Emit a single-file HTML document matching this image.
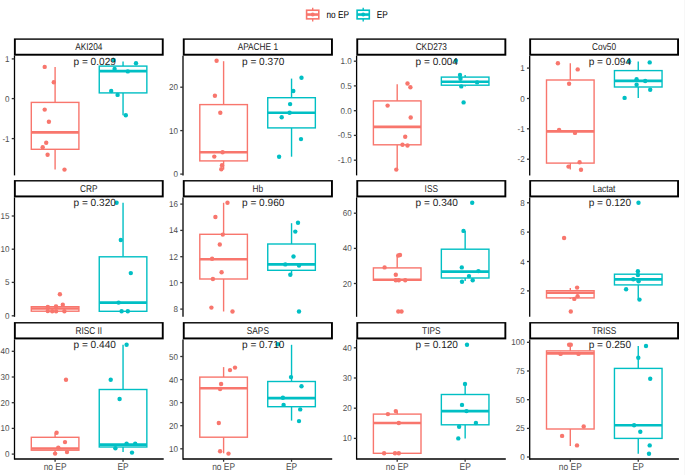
<!DOCTYPE html>
<html><head><meta charset="utf-8"><style>
html,body{margin:0;padding:0;background:#fff;}
svg{display:block;}
text{font-family:"Liberation Sans",sans-serif;text-rendering:geometricPrecision;}
.ax{font-size:8.5px;fill:#4D4D4D;}
.st{font-size:9.9px;fill:#262626;text-anchor:middle;}
.pv{font-size:10.3px;fill:#1c1c1c;}
.lg{font-size:10.0px;fill:#000;}
.xl{font-size:9.7px;fill:#4D4D4D;}
</style></head><body>
<svg width="685" height="475" viewBox="0 0 685 475">
<rect width="685" height="475" fill="#fff"/>
<line x1="684.5" y1="0" x2="684.5" y2="475" stroke="#f7f7f7" stroke-width="1"/>
<rect x="13.9" y="38.4" width="149.8" height="17.3" fill="#000"/>
<rect x="15.8" y="39.8" width="146" height="13.95" fill="#fff"/>
<text transform="translate(88.8,49.85) scale(0.84,1)" class="st">AKI204</text>
<line x1="14.5" y1="55.7" x2="14.5" y2="175.4" stroke="#000" stroke-width="1.3"/>
<line x1="11.75" y1="58.9" x2="14.5" y2="58.9" stroke="#333" stroke-width="1.3"/>
<text transform="translate(9.6,61.9) scale(0.95,1)" class="ax" text-anchor="end">1</text>
<line x1="11.75" y1="98.6" x2="14.5" y2="98.6" stroke="#333" stroke-width="1.3"/>
<text transform="translate(9.6,101.6) scale(0.95,1)" class="ax" text-anchor="end">0</text>
<line x1="11.75" y1="138.6" x2="14.5" y2="138.6" stroke="#333" stroke-width="1.3"/>
<text transform="translate(9.6,141.6) scale(0.95,1)" class="ax" text-anchor="end">-1</text>
<line x1="55.1" y1="66.9" x2="55.1" y2="102.4" stroke="#F8766D" stroke-width="1.4"/>
<line x1="55.1" y1="149.3" x2="55.1" y2="169.5" stroke="#F8766D" stroke-width="1.4"/>
<rect x="31.3" y="102.4" width="47.6" height="46.9" fill="#fff" stroke="#F8766D" stroke-width="1.4"/>
<line x1="31.3" y1="132.4" x2="78.9" y2="132.4" stroke="#F8766D" stroke-width="2.6"/>
<line x1="123.05" y1="61.4" x2="123.05" y2="66.1" stroke="#00BFC4" stroke-width="1.4"/>
<line x1="123.05" y1="92.9" x2="123.05" y2="115.3" stroke="#00BFC4" stroke-width="1.4"/>
<rect x="99.25" y="66.1" width="47.6" height="26.8" fill="#fff" stroke="#00BFC4" stroke-width="1.4"/>
<line x1="99.25" y1="71.1" x2="146.85" y2="71.1" stroke="#00BFC4" stroke-width="2.6"/>
<circle cx="44.7" cy="66.9" r="2.2" fill="#F8766D"/>
<circle cx="53.8" cy="82.3" r="2.2" fill="#F8766D"/>
<circle cx="44.7" cy="109.6" r="2.2" fill="#F8766D"/>
<circle cx="48.9" cy="121.7" r="2.2" fill="#F8766D"/>
<circle cx="46.2" cy="142.8" r="2.2" fill="#F8766D"/>
<circle cx="42.7" cy="147.3" r="2.2" fill="#F8766D"/>
<circle cx="47.6" cy="154.7" r="2.2" fill="#F8766D"/>
<circle cx="64.5" cy="169.6" r="2.2" fill="#F8766D"/>
<circle cx="113.6" cy="60" r="2.2" fill="#00BFC4"/>
<circle cx="136" cy="63.2" r="2.2" fill="#00BFC4"/>
<circle cx="114.6" cy="68.9" r="2.2" fill="#00BFC4"/>
<circle cx="127.8" cy="71.4" r="2.2" fill="#00BFC4"/>
<circle cx="111.2" cy="91" r="2.2" fill="#00BFC4"/>
<circle cx="117.6" cy="94.9" r="2.2" fill="#00BFC4"/>
<circle cx="125.8" cy="115.3" r="2.2" fill="#00BFC4"/>
<text transform="translate(73.5,64.5) scale(0.98,1)" class="pv">p = 0.029</text>
<rect x="182.8" y="38.4" width="150.1" height="17.3" fill="#000"/>
<rect x="184.7" y="39.8" width="146.3" height="13.95" fill="#fff"/>
<text transform="translate(257.85,49.85) scale(0.84,1)" class="st">APACHE 1</text>
<line x1="183" y1="55.7" x2="183" y2="175.4" stroke="#000" stroke-width="1.3"/>
<line x1="180.25" y1="87.2" x2="183" y2="87.2" stroke="#333" stroke-width="1.3"/>
<text transform="translate(178.1,90.2) scale(0.95,1)" class="ax" text-anchor="end">20</text>
<line x1="180.25" y1="130.6" x2="183" y2="130.6" stroke="#333" stroke-width="1.3"/>
<text transform="translate(178.1,133.6) scale(0.95,1)" class="ax" text-anchor="end">10</text>
<line x1="180.25" y1="174.1" x2="183" y2="174.1" stroke="#333" stroke-width="1.3"/>
<text transform="translate(178.1,177.1) scale(0.95,1)" class="ax" text-anchor="end">0</text>
<line x1="223.6" y1="61.2" x2="223.6" y2="104.6" stroke="#F8766D" stroke-width="1.4"/>
<line x1="223.6" y1="160.9" x2="223.6" y2="169.5" stroke="#F8766D" stroke-width="1.4"/>
<rect x="199.8" y="104.6" width="47.6" height="56.3" fill="#fff" stroke="#F8766D" stroke-width="1.4"/>
<line x1="199.8" y1="152.3" x2="247.4" y2="152.3" stroke="#F8766D" stroke-width="2.6"/>
<line x1="291.55" y1="78.6" x2="291.55" y2="97.7" stroke="#00BFC4" stroke-width="1.4"/>
<line x1="291.55" y1="127.9" x2="291.55" y2="156.7" stroke="#00BFC4" stroke-width="1.4"/>
<rect x="267.75" y="97.7" width="47.6" height="30.2" fill="#fff" stroke="#00BFC4" stroke-width="1.4"/>
<line x1="267.75" y1="112.8" x2="315.35" y2="112.8" stroke="#00BFC4" stroke-width="2.6"/>
<circle cx="216.6" cy="60.7" r="2.2" fill="#F8766D"/>
<circle cx="214.9" cy="95.7" r="2.2" fill="#F8766D"/>
<circle cx="220.3" cy="112.8" r="2.2" fill="#F8766D"/>
<circle cx="222.6" cy="152.3" r="2.2" fill="#F8766D"/>
<circle cx="214.3" cy="156.6" r="2.2" fill="#F8766D"/>
<circle cx="222" cy="165.3" r="2.2" fill="#F8766D"/>
<circle cx="221.3" cy="169.3" r="2.2" fill="#F8766D"/>
<circle cx="301.5" cy="77.8" r="2.2" fill="#00BFC4"/>
<circle cx="293.3" cy="91" r="2.2" fill="#00BFC4"/>
<circle cx="290.1" cy="104.1" r="2.2" fill="#00BFC4"/>
<circle cx="289.6" cy="112.8" r="2.2" fill="#00BFC4"/>
<circle cx="281.7" cy="117.2" r="2.2" fill="#00BFC4"/>
<circle cx="301" cy="139.1" r="2.2" fill="#00BFC4"/>
<circle cx="279.1" cy="156.7" r="2.2" fill="#00BFC4"/>
<text transform="translate(242,64.5) scale(0.98,1)" class="pv">p = 0.370</text>
<rect x="356.3" y="38.4" width="150" height="17.3" fill="#000"/>
<rect x="358.2" y="39.8" width="146.2" height="13.95" fill="#fff"/>
<text transform="translate(431.3,49.85) scale(0.84,1)" class="st">CKD273</text>
<line x1="356.6" y1="55.7" x2="356.6" y2="175.4" stroke="#000" stroke-width="1.3"/>
<line x1="353.85" y1="61.2" x2="356.6" y2="61.2" stroke="#333" stroke-width="1.3"/>
<text transform="translate(351.7,64.2) scale(0.95,1)" class="ax" text-anchor="end">1.0</text>
<line x1="353.85" y1="85.9" x2="356.6" y2="85.9" stroke="#333" stroke-width="1.3"/>
<text transform="translate(351.7,88.9) scale(0.95,1)" class="ax" text-anchor="end">0.5</text>
<line x1="353.85" y1="110.7" x2="356.6" y2="110.7" stroke="#333" stroke-width="1.3"/>
<text transform="translate(351.7,113.7) scale(0.95,1)" class="ax" text-anchor="end">0.0</text>
<line x1="353.85" y1="135.4" x2="356.6" y2="135.4" stroke="#333" stroke-width="1.3"/>
<text transform="translate(351.7,138.4) scale(0.95,1)" class="ax" text-anchor="end">-0.5</text>
<line x1="353.85" y1="160.2" x2="356.6" y2="160.2" stroke="#333" stroke-width="1.3"/>
<text transform="translate(351.7,163.2) scale(0.95,1)" class="ax" text-anchor="end">-1.0</text>
<line x1="397.2" y1="84.3" x2="397.2" y2="100.9" stroke="#F8766D" stroke-width="1.4"/>
<line x1="397.2" y1="144.8" x2="397.2" y2="169.6" stroke="#F8766D" stroke-width="1.4"/>
<rect x="373.4" y="100.9" width="47.6" height="43.9" fill="#fff" stroke="#F8766D" stroke-width="1.4"/>
<line x1="373.4" y1="126.9" x2="421" y2="126.9" stroke="#F8766D" stroke-width="2.6"/>
<line x1="465.15" y1="75" x2="465.15" y2="77.1" stroke="#00BFC4" stroke-width="1.4"/>
<line x1="465.15" y1="85.2" x2="465.15" y2="86.6" stroke="#00BFC4" stroke-width="1.4"/>
<rect x="441.35" y="77.1" width="47.6" height="8.1" fill="#fff" stroke="#00BFC4" stroke-width="1.4"/>
<line x1="441.35" y1="81.7" x2="488.95" y2="81.7" stroke="#00BFC4" stroke-width="2.6"/>
<circle cx="407.5" cy="83.5" r="2.2" fill="#F8766D"/>
<circle cx="410.4" cy="87.2" r="2.2" fill="#F8766D"/>
<circle cx="387.6" cy="105.6" r="2.2" fill="#F8766D"/>
<circle cx="410.7" cy="117.5" r="2.2" fill="#F8766D"/>
<circle cx="405.2" cy="136.8" r="2.2" fill="#F8766D"/>
<circle cx="402.5" cy="144.8" r="2.2" fill="#F8766D"/>
<circle cx="407.5" cy="145.5" r="2.2" fill="#F8766D"/>
<circle cx="396.3" cy="169.6" r="2.2" fill="#F8766D"/>
<circle cx="455.9" cy="60.8" r="2.2" fill="#00BFC4"/>
<circle cx="460" cy="75" r="2.2" fill="#00BFC4"/>
<circle cx="460.5" cy="78.8" r="2.2" fill="#00BFC4"/>
<circle cx="477.1" cy="82.4" r="2.2" fill="#00BFC4"/>
<circle cx="461.3" cy="86.4" r="2.2" fill="#00BFC4"/>
<circle cx="463.6" cy="102.4" r="2.2" fill="#00BFC4"/>
<text transform="translate(415.6,64.5) scale(0.98,1)" class="pv">p = 0.004</text>
<rect x="529.2" y="38.4" width="149.8" height="17.3" fill="#000"/>
<rect x="531.1" y="39.8" width="146" height="13.95" fill="#fff"/>
<text transform="translate(604.1,49.85) scale(0.84,1)" class="st">Cov50</text>
<line x1="529.7" y1="55.7" x2="529.7" y2="175.4" stroke="#000" stroke-width="1.3"/>
<line x1="526.95" y1="68.1" x2="529.7" y2="68.1" stroke="#333" stroke-width="1.3"/>
<text transform="translate(524.8,71.1) scale(0.95,1)" class="ax" text-anchor="end">1</text>
<line x1="526.95" y1="98.5" x2="529.7" y2="98.5" stroke="#333" stroke-width="1.3"/>
<text transform="translate(524.8,101.5) scale(0.95,1)" class="ax" text-anchor="end">0</text>
<line x1="526.95" y1="128.8" x2="529.7" y2="128.8" stroke="#333" stroke-width="1.3"/>
<text transform="translate(524.8,131.8) scale(0.95,1)" class="ax" text-anchor="end">-1</text>
<line x1="526.95" y1="159.2" x2="529.7" y2="159.2" stroke="#333" stroke-width="1.3"/>
<text transform="translate(524.8,162.2) scale(0.95,1)" class="ax" text-anchor="end">-2</text>
<line x1="570.3" y1="63.2" x2="570.3" y2="80" stroke="#F8766D" stroke-width="1.4"/>
<line x1="570.3" y1="163.1" x2="570.3" y2="169.4" stroke="#F8766D" stroke-width="1.4"/>
<rect x="546.5" y="80" width="47.6" height="83.1" fill="#fff" stroke="#F8766D" stroke-width="1.4"/>
<line x1="546.5" y1="131.4" x2="594.1" y2="131.4" stroke="#F8766D" stroke-width="2.6"/>
<line x1="638.25" y1="61.4" x2="638.25" y2="70.6" stroke="#00BFC4" stroke-width="1.4"/>
<line x1="638.25" y1="87" x2="638.25" y2="97.9" stroke="#00BFC4" stroke-width="1.4"/>
<rect x="614.45" y="70.6" width="47.6" height="16.4" fill="#fff" stroke="#00BFC4" stroke-width="1.4"/>
<line x1="614.45" y1="80.9" x2="662.05" y2="80.9" stroke="#00BFC4" stroke-width="2.6"/>
<circle cx="557.9" cy="63.2" r="2.2" fill="#F8766D"/>
<circle cx="577.7" cy="69.4" r="2.2" fill="#F8766D"/>
<circle cx="569.1" cy="83.8" r="2.2" fill="#F8766D"/>
<circle cx="559.1" cy="129.9" r="2.2" fill="#F8766D"/>
<circle cx="575" cy="132.9" r="2.2" fill="#F8766D"/>
<circle cx="579.6" cy="162.3" r="2.2" fill="#F8766D"/>
<circle cx="568.5" cy="166.6" r="2.2" fill="#F8766D"/>
<circle cx="581" cy="169.7" r="2.2" fill="#F8766D"/>
<circle cx="629.1" cy="61.2" r="2.2" fill="#00BFC4"/>
<circle cx="649.7" cy="62.4" r="2.2" fill="#00BFC4"/>
<circle cx="636.6" cy="79.3" r="2.2" fill="#00BFC4"/>
<circle cx="645.2" cy="81" r="2.2" fill="#00BFC4"/>
<circle cx="636.6" cy="84.8" r="2.2" fill="#00BFC4"/>
<circle cx="650.2" cy="89.7" r="2.2" fill="#00BFC4"/>
<circle cx="624.6" cy="97.9" r="2.2" fill="#00BFC4"/>
<text transform="translate(588.7,64.5) scale(0.98,1)" class="pv">p = 0.094</text>
<rect x="13.9" y="180.1" width="149.8" height="17.3" fill="#000"/>
<rect x="15.8" y="181.5" width="146" height="13.95" fill="#fff"/>
<text transform="translate(88.8,191.55) scale(0.84,1)" class="st">CRP</text>
<line x1="14.5" y1="197.4" x2="14.5" y2="316.8" stroke="#000" stroke-width="1.3"/>
<line x1="11.75" y1="216" x2="14.5" y2="216" stroke="#333" stroke-width="1.3"/>
<text transform="translate(9.6,219) scale(0.95,1)" class="ax" text-anchor="end">15</text>
<line x1="11.75" y1="249.2" x2="14.5" y2="249.2" stroke="#333" stroke-width="1.3"/>
<text transform="translate(9.6,252.2) scale(0.95,1)" class="ax" text-anchor="end">10</text>
<line x1="11.75" y1="282.4" x2="14.5" y2="282.4" stroke="#333" stroke-width="1.3"/>
<text transform="translate(9.6,285.4) scale(0.95,1)" class="ax" text-anchor="end">5</text>
<line x1="11.75" y1="315.8" x2="14.5" y2="315.8" stroke="#333" stroke-width="1.3"/>
<text transform="translate(9.6,318.8) scale(0.95,1)" class="ax" text-anchor="end">0</text>
<line x1="55.1" y1="304.7" x2="55.1" y2="306.7" stroke="#F8766D" stroke-width="1.4"/>
<line x1="55.1" y1="311.2" x2="55.1" y2="311.7" stroke="#F8766D" stroke-width="1.4"/>
<rect x="31.3" y="306.7" width="47.6" height="4.5" fill="#fff" stroke="#F8766D" stroke-width="1.4"/>
<line x1="31.3" y1="308.5" x2="78.9" y2="308.5" stroke="#F8766D" stroke-width="2.6"/>
<line x1="123.05" y1="202.8" x2="123.05" y2="256.8" stroke="#00BFC4" stroke-width="1.4"/>
<line x1="123.05" y1="311.3" x2="123.05" y2="311.3" stroke="#00BFC4" stroke-width="1.4"/>
<rect x="99.25" y="256.8" width="47.6" height="54.5" fill="#fff" stroke="#00BFC4" stroke-width="1.4"/>
<line x1="99.25" y1="302.6" x2="146.85" y2="302.6" stroke="#00BFC4" stroke-width="2.6"/>
<circle cx="59.9" cy="294.2" r="2.2" fill="#F8766D"/>
<circle cx="62.8" cy="304.7" r="2.2" fill="#F8766D"/>
<circle cx="47.8" cy="307" r="2.2" fill="#F8766D"/>
<circle cx="47.8" cy="311" r="2.2" fill="#F8766D"/>
<circle cx="52.2" cy="311.3" r="2.2" fill="#F8766D"/>
<circle cx="56.1" cy="306.5" r="2.2" fill="#F8766D"/>
<circle cx="56.1" cy="311.3" r="2.2" fill="#F8766D"/>
<circle cx="64.4" cy="311.3" r="2.2" fill="#F8766D"/>
<circle cx="116.6" cy="202.8" r="2.2" fill="#00BFC4"/>
<circle cx="120.8" cy="240" r="2.2" fill="#00BFC4"/>
<circle cx="130.8" cy="273.1" r="2.2" fill="#00BFC4"/>
<circle cx="118.6" cy="302.6" r="2.2" fill="#00BFC4"/>
<circle cx="121.6" cy="311.3" r="2.2" fill="#00BFC4"/>
<circle cx="127.8" cy="311.3" r="2.2" fill="#00BFC4"/>
<text transform="translate(73.5,206.2) scale(0.98,1)" class="pv">p = 0.320</text>
<rect x="182.8" y="180.1" width="150.1" height="17.3" fill="#000"/>
<rect x="184.7" y="181.5" width="146.3" height="13.95" fill="#fff"/>
<text transform="translate(257.85,191.55) scale(0.84,1)" class="st">Hb</text>
<line x1="183" y1="197.4" x2="183" y2="316.8" stroke="#000" stroke-width="1.3"/>
<line x1="180.25" y1="204.1" x2="183" y2="204.1" stroke="#333" stroke-width="1.3"/>
<text transform="translate(178.1,207.1) scale(0.95,1)" class="ax" text-anchor="end">16</text>
<line x1="180.25" y1="230.4" x2="183" y2="230.4" stroke="#333" stroke-width="1.3"/>
<text transform="translate(178.1,233.4) scale(0.95,1)" class="ax" text-anchor="end">14</text>
<line x1="180.25" y1="256.7" x2="183" y2="256.7" stroke="#333" stroke-width="1.3"/>
<text transform="translate(178.1,259.7) scale(0.95,1)" class="ax" text-anchor="end">12</text>
<line x1="180.25" y1="282.6" x2="183" y2="282.6" stroke="#333" stroke-width="1.3"/>
<text transform="translate(178.1,285.6) scale(0.95,1)" class="ax" text-anchor="end">10</text>
<line x1="180.25" y1="309.1" x2="183" y2="309.1" stroke="#333" stroke-width="1.3"/>
<text transform="translate(178.1,312.1) scale(0.95,1)" class="ax" text-anchor="end">8</text>
<line x1="223.6" y1="202.8" x2="223.6" y2="234.3" stroke="#F8766D" stroke-width="1.4"/>
<line x1="223.6" y1="279" x2="223.6" y2="311.5" stroke="#F8766D" stroke-width="1.4"/>
<rect x="199.8" y="234.3" width="47.6" height="44.7" fill="#fff" stroke="#F8766D" stroke-width="1.4"/>
<line x1="199.8" y1="259.2" x2="247.4" y2="259.2" stroke="#F8766D" stroke-width="2.6"/>
<line x1="291.55" y1="223.2" x2="291.55" y2="244" stroke="#00BFC4" stroke-width="1.4"/>
<line x1="291.55" y1="270.3" x2="291.55" y2="274.8" stroke="#00BFC4" stroke-width="1.4"/>
<rect x="267.75" y="244" width="47.6" height="26.3" fill="#fff" stroke="#00BFC4" stroke-width="1.4"/>
<line x1="267.75" y1="264.4" x2="315.35" y2="264.4" stroke="#00BFC4" stroke-width="2.6"/>
<circle cx="227.5" cy="202.8" r="2.2" fill="#F8766D"/>
<circle cx="215.4" cy="217" r="2.2" fill="#F8766D"/>
<circle cx="222.8" cy="234.6" r="2.2" fill="#F8766D"/>
<circle cx="219.8" cy="244.5" r="2.2" fill="#F8766D"/>
<circle cx="212.1" cy="258.8" r="2.2" fill="#F8766D"/>
<circle cx="221.6" cy="272.3" r="2.2" fill="#F8766D"/>
<circle cx="212.9" cy="279" r="2.2" fill="#F8766D"/>
<circle cx="211.4" cy="307.6" r="2.2" fill="#F8766D"/>
<circle cx="232.5" cy="311.5" r="2.2" fill="#F8766D"/>
<circle cx="298" cy="222.7" r="2.2" fill="#00BFC4"/>
<circle cx="295.3" cy="231.6" r="2.2" fill="#00BFC4"/>
<circle cx="293.5" cy="256.5" r="2.2" fill="#00BFC4"/>
<circle cx="285.3" cy="264.4" r="2.2" fill="#00BFC4"/>
<circle cx="299" cy="265.6" r="2.2" fill="#00BFC4"/>
<circle cx="290.3" cy="274.8" r="2.2" fill="#00BFC4"/>
<circle cx="299" cy="311.5" r="2.2" fill="#00BFC4"/>
<text transform="translate(242,206.2) scale(0.98,1)" class="pv">p = 0.960</text>
<rect x="356.3" y="180.1" width="150" height="17.3" fill="#000"/>
<rect x="358.2" y="181.5" width="146.2" height="13.95" fill="#fff"/>
<text transform="translate(431.3,191.55) scale(0.84,1)" class="st">ISS</text>
<line x1="356.6" y1="197.4" x2="356.6" y2="316.8" stroke="#000" stroke-width="1.3"/>
<line x1="353.85" y1="213.2" x2="356.6" y2="213.2" stroke="#333" stroke-width="1.3"/>
<text transform="translate(351.7,216.2) scale(0.95,1)" class="ax" text-anchor="end">60</text>
<line x1="353.85" y1="248.4" x2="356.6" y2="248.4" stroke="#333" stroke-width="1.3"/>
<text transform="translate(351.7,251.4) scale(0.95,1)" class="ax" text-anchor="end">40</text>
<line x1="353.85" y1="283.5" x2="356.6" y2="283.5" stroke="#333" stroke-width="1.3"/>
<text transform="translate(351.7,286.5) scale(0.95,1)" class="ax" text-anchor="end">20</text>
<line x1="397.2" y1="255.5" x2="397.2" y2="267.9" stroke="#F8766D" stroke-width="1.4"/>
<line x1="397.2" y1="280.3" x2="397.2" y2="280.3" stroke="#F8766D" stroke-width="1.4"/>
<rect x="373.4" y="267.9" width="47.6" height="12.4" fill="#fff" stroke="#F8766D" stroke-width="1.4"/>
<line x1="373.4" y1="279.8" x2="421" y2="279.8" stroke="#F8766D" stroke-width="2.6"/>
<line x1="465.15" y1="230.9" x2="465.15" y2="249.2" stroke="#00BFC4" stroke-width="1.4"/>
<line x1="465.15" y1="278" x2="465.15" y2="281" stroke="#00BFC4" stroke-width="1.4"/>
<rect x="441.35" y="249.2" width="47.6" height="28.8" fill="#fff" stroke="#00BFC4" stroke-width="1.4"/>
<line x1="441.35" y1="271.6" x2="488.95" y2="271.6" stroke="#00BFC4" stroke-width="2.6"/>
<circle cx="400" cy="255" r="2.2" fill="#F8766D"/>
<circle cx="398.3" cy="255.5" r="2.2" fill="#F8766D"/>
<circle cx="384.6" cy="267.4" r="2.2" fill="#F8766D"/>
<circle cx="395.8" cy="274.8" r="2.2" fill="#F8766D"/>
<circle cx="395.8" cy="280.3" r="2.2" fill="#F8766D"/>
<circle cx="398.8" cy="280.3" r="2.2" fill="#F8766D"/>
<circle cx="405.2" cy="280.3" r="2.2" fill="#F8766D"/>
<circle cx="398.3" cy="311.5" r="2.2" fill="#F8766D"/>
<circle cx="401.5" cy="311.5" r="2.2" fill="#F8766D"/>
<circle cx="472.2" cy="202.8" r="2.2" fill="#00BFC4"/>
<circle cx="463.5" cy="230.9" r="2.2" fill="#00BFC4"/>
<circle cx="461.8" cy="267.4" r="2.2" fill="#00BFC4"/>
<circle cx="478.4" cy="271.1" r="2.2" fill="#00BFC4"/>
<circle cx="469" cy="276.1" r="2.2" fill="#00BFC4"/>
<circle cx="472.7" cy="280.3" r="2.2" fill="#00BFC4"/>
<circle cx="462" cy="281.8" r="2.2" fill="#00BFC4"/>
<text transform="translate(415.6,206.2) scale(0.98,1)" class="pv">p = 0.340</text>
<rect x="529.2" y="180.1" width="149.8" height="17.3" fill="#000"/>
<rect x="531.1" y="181.5" width="146" height="13.95" fill="#fff"/>
<text transform="translate(604.1,191.55) scale(0.84,1)" class="st">Lactat</text>
<line x1="529.7" y1="197.4" x2="529.7" y2="316.8" stroke="#000" stroke-width="1.3"/>
<line x1="526.95" y1="202.8" x2="529.7" y2="202.8" stroke="#333" stroke-width="1.3"/>
<text transform="translate(524.8,205.8) scale(0.95,1)" class="ax" text-anchor="end">8</text>
<line x1="526.95" y1="232.1" x2="529.7" y2="232.1" stroke="#333" stroke-width="1.3"/>
<text transform="translate(524.8,235.1) scale(0.95,1)" class="ax" text-anchor="end">6</text>
<line x1="526.95" y1="261.5" x2="529.7" y2="261.5" stroke="#333" stroke-width="1.3"/>
<text transform="translate(524.8,264.5) scale(0.95,1)" class="ax" text-anchor="end">4</text>
<line x1="526.95" y1="290.9" x2="529.7" y2="290.9" stroke="#333" stroke-width="1.3"/>
<text transform="translate(524.8,293.9) scale(0.95,1)" class="ax" text-anchor="end">2</text>
<line x1="570.3" y1="288" x2="570.3" y2="290.7" stroke="#F8766D" stroke-width="1.4"/>
<line x1="570.3" y1="297.9" x2="570.3" y2="298.9" stroke="#F8766D" stroke-width="1.4"/>
<rect x="546.5" y="290.7" width="47.6" height="7.2" fill="#fff" stroke="#F8766D" stroke-width="1.4"/>
<line x1="546.5" y1="292.7" x2="594.1" y2="292.7" stroke="#F8766D" stroke-width="2.6"/>
<line x1="638.25" y1="271.1" x2="638.25" y2="274.2" stroke="#00BFC4" stroke-width="1.4"/>
<line x1="638.25" y1="284.9" x2="638.25" y2="299.6" stroke="#00BFC4" stroke-width="1.4"/>
<rect x="614.45" y="274.2" width="47.6" height="10.7" fill="#fff" stroke="#00BFC4" stroke-width="1.4"/>
<line x1="614.45" y1="279.4" x2="662.05" y2="279.4" stroke="#00BFC4" stroke-width="2.6"/>
<circle cx="564.1" cy="238" r="2.2" fill="#F8766D"/>
<circle cx="577.1" cy="287.6" r="2.2" fill="#F8766D"/>
<circle cx="577.6" cy="296.3" r="2.2" fill="#F8766D"/>
<circle cx="574.3" cy="298.9" r="2.2" fill="#F8766D"/>
<circle cx="570.8" cy="311.5" r="2.2" fill="#F8766D"/>
<circle cx="638.5" cy="202.8" r="2.2" fill="#00BFC4"/>
<circle cx="637.9" cy="271.3" r="2.2" fill="#00BFC4"/>
<circle cx="637.9" cy="275" r="2.2" fill="#00BFC4"/>
<circle cx="633.3" cy="279.3" r="2.2" fill="#00BFC4"/>
<circle cx="638.6" cy="281.2" r="2.2" fill="#00BFC4"/>
<circle cx="626.1" cy="289.2" r="2.2" fill="#00BFC4"/>
<circle cx="639.5" cy="299.6" r="2.2" fill="#00BFC4"/>
<text transform="translate(588.7,206.2) scale(0.98,1)" class="pv">p = 0.120</text>
<rect x="13.9" y="322.1" width="149.8" height="17.3" fill="#000"/>
<rect x="15.8" y="323.5" width="146" height="13.95" fill="#fff"/>
<text transform="translate(88.8,333.55) scale(0.84,1)" class="st">RISC II</text>
<line x1="14.5" y1="339.4" x2="14.5" y2="459.65" stroke="#000" stroke-width="1.3"/>
<line x1="11.75" y1="351.3" x2="14.5" y2="351.3" stroke="#333" stroke-width="1.3"/>
<text transform="translate(9.6,354.3) scale(0.95,1)" class="ax" text-anchor="end">40</text>
<line x1="11.75" y1="377" x2="14.5" y2="377" stroke="#333" stroke-width="1.3"/>
<text transform="translate(9.6,380) scale(0.95,1)" class="ax" text-anchor="end">30</text>
<line x1="11.75" y1="402.7" x2="14.5" y2="402.7" stroke="#333" stroke-width="1.3"/>
<text transform="translate(9.6,405.7) scale(0.95,1)" class="ax" text-anchor="end">20</text>
<line x1="11.75" y1="428.4" x2="14.5" y2="428.4" stroke="#333" stroke-width="1.3"/>
<text transform="translate(9.6,431.4) scale(0.95,1)" class="ax" text-anchor="end">10</text>
<line x1="11.75" y1="454.1" x2="14.5" y2="454.1" stroke="#333" stroke-width="1.3"/>
<text transform="translate(9.6,457.1) scale(0.95,1)" class="ax" text-anchor="end">0</text>
<line x1="14.5" y1="459" x2="163.7" y2="459" stroke="#000" stroke-width="1.3"/>
<line x1="55.1" y1="459" x2="55.1" y2="461.75" stroke="#333" stroke-width="1.3"/>
<text transform="translate(55.1,470.1) scale(0.87,1)" class="xl" text-anchor="middle">no EP</text>
<line x1="123.05" y1="459" x2="123.05" y2="461.75" stroke="#333" stroke-width="1.3"/>
<text transform="translate(123.05,470.1) scale(0.87,1)" class="xl" text-anchor="middle">EP</text>
<line x1="55.1" y1="432.7" x2="55.1" y2="437.3" stroke="#F8766D" stroke-width="1.4"/>
<line x1="55.1" y1="450.2" x2="55.1" y2="454.3" stroke="#F8766D" stroke-width="1.4"/>
<rect x="31.3" y="437.3" width="47.6" height="12.9" fill="#fff" stroke="#F8766D" stroke-width="1.4"/>
<line x1="31.3" y1="448.5" x2="78.9" y2="448.5" stroke="#F8766D" stroke-width="2.6"/>
<line x1="123.05" y1="344.8" x2="123.05" y2="389.5" stroke="#00BFC4" stroke-width="1.4"/>
<line x1="123.05" y1="447" x2="123.05" y2="452.1" stroke="#00BFC4" stroke-width="1.4"/>
<rect x="99.25" y="389.5" width="47.6" height="57.5" fill="#fff" stroke="#00BFC4" stroke-width="1.4"/>
<line x1="99.25" y1="444.6" x2="146.85" y2="444.6" stroke="#00BFC4" stroke-width="2.6"/>
<circle cx="66" cy="379.8" r="2.2" fill="#F8766D"/>
<circle cx="56.6" cy="432.7" r="2.2" fill="#F8766D"/>
<circle cx="65" cy="442.1" r="2.2" fill="#F8766D"/>
<circle cx="58.3" cy="447.6" r="2.2" fill="#F8766D"/>
<circle cx="55.1" cy="453.6" r="2.2" fill="#F8766D"/>
<circle cx="67" cy="452.1" r="2.2" fill="#F8766D"/>
<circle cx="126.6" cy="344.8" r="2.2" fill="#00BFC4"/>
<circle cx="110.7" cy="379.8" r="2.2" fill="#00BFC4"/>
<circle cx="119.6" cy="399" r="2.2" fill="#00BFC4"/>
<circle cx="126.6" cy="443.6" r="2.2" fill="#00BFC4"/>
<circle cx="135.2" cy="443.6" r="2.2" fill="#00BFC4"/>
<circle cx="115.4" cy="448.3" r="2.2" fill="#00BFC4"/>
<circle cx="132" cy="452.6" r="2.2" fill="#00BFC4"/>
<text transform="translate(73.5,348.2) scale(0.98,1)" class="pv">p = 0.440</text>
<rect x="182.8" y="322.1" width="150.1" height="17.3" fill="#000"/>
<rect x="184.7" y="323.5" width="146.3" height="13.95" fill="#fff"/>
<text transform="translate(257.85,333.55) scale(0.84,1)" class="st">SAPS</text>
<line x1="183" y1="339.4" x2="183" y2="459.65" stroke="#000" stroke-width="1.3"/>
<line x1="180.25" y1="356.5" x2="183" y2="356.5" stroke="#333" stroke-width="1.3"/>
<text transform="translate(178.1,359.5) scale(0.95,1)" class="ax" text-anchor="end">50</text>
<line x1="180.25" y1="379.6" x2="183" y2="379.6" stroke="#333" stroke-width="1.3"/>
<text transform="translate(178.1,382.6) scale(0.95,1)" class="ax" text-anchor="end">40</text>
<line x1="180.25" y1="402.6" x2="183" y2="402.6" stroke="#333" stroke-width="1.3"/>
<text transform="translate(178.1,405.6) scale(0.95,1)" class="ax" text-anchor="end">30</text>
<line x1="180.25" y1="425.7" x2="183" y2="425.7" stroke="#333" stroke-width="1.3"/>
<text transform="translate(178.1,428.7) scale(0.95,1)" class="ax" text-anchor="end">20</text>
<line x1="180.25" y1="448.8" x2="183" y2="448.8" stroke="#333" stroke-width="1.3"/>
<text transform="translate(178.1,451.8) scale(0.95,1)" class="ax" text-anchor="end">10</text>
<line x1="183" y1="459" x2="332.2" y2="459" stroke="#000" stroke-width="1.3"/>
<line x1="223.6" y1="459" x2="223.6" y2="461.75" stroke="#333" stroke-width="1.3"/>
<text transform="translate(223.6,470.1) scale(0.87,1)" class="xl" text-anchor="middle">no EP</text>
<line x1="291.55" y1="459" x2="291.55" y2="461.75" stroke="#333" stroke-width="1.3"/>
<text transform="translate(291.55,470.1) scale(0.87,1)" class="xl" text-anchor="middle">EP</text>
<line x1="223.6" y1="367.1" x2="223.6" y2="377.1" stroke="#F8766D" stroke-width="1.4"/>
<line x1="223.6" y1="437.2" x2="223.6" y2="453.3" stroke="#F8766D" stroke-width="1.4"/>
<rect x="199.8" y="377.1" width="47.6" height="60.1" fill="#fff" stroke="#F8766D" stroke-width="1.4"/>
<line x1="199.8" y1="388.2" x2="247.4" y2="388.2" stroke="#F8766D" stroke-width="2.6"/>
<line x1="291.55" y1="344.8" x2="291.55" y2="381.5" stroke="#00BFC4" stroke-width="1.4"/>
<line x1="291.55" y1="406.7" x2="291.55" y2="420.6" stroke="#00BFC4" stroke-width="1.4"/>
<rect x="267.75" y="381.5" width="47.6" height="25.2" fill="#fff" stroke="#00BFC4" stroke-width="1.4"/>
<line x1="267.75" y1="398.1" x2="315.35" y2="398.1" stroke="#00BFC4" stroke-width="2.6"/>
<circle cx="230" cy="370.1" r="2.2" fill="#F8766D"/>
<circle cx="235" cy="367.6" r="2.2" fill="#F8766D"/>
<circle cx="221.1" cy="384" r="2.2" fill="#F8766D"/>
<circle cx="220.1" cy="389" r="2.2" fill="#F8766D"/>
<circle cx="218.8" cy="423" r="2.2" fill="#F8766D"/>
<circle cx="220.1" cy="451.3" r="2.2" fill="#F8766D"/>
<circle cx="228.5" cy="453.6" r="2.2" fill="#F8766D"/>
<circle cx="277.9" cy="344.3" r="2.2" fill="#00BFC4"/>
<circle cx="291" cy="377.1" r="2.2" fill="#00BFC4"/>
<circle cx="301.5" cy="386.3" r="2.2" fill="#00BFC4"/>
<circle cx="282.9" cy="397.7" r="2.2" fill="#00BFC4"/>
<circle cx="283.6" cy="404.9" r="2.2" fill="#00BFC4"/>
<circle cx="300.2" cy="409.4" r="2.2" fill="#00BFC4"/>
<circle cx="299" cy="421.1" r="2.2" fill="#00BFC4"/>
<text transform="translate(242,348.2) scale(0.98,1)" class="pv">p = 0.710</text>
<rect x="356.3" y="322.1" width="150" height="17.3" fill="#000"/>
<rect x="358.2" y="323.5" width="146.2" height="13.95" fill="#fff"/>
<text transform="translate(431.3,333.55) scale(0.84,1)" class="st">TIPS</text>
<line x1="356.6" y1="339.4" x2="356.6" y2="459.65" stroke="#000" stroke-width="1.3"/>
<line x1="353.85" y1="347.8" x2="356.6" y2="347.8" stroke="#333" stroke-width="1.3"/>
<text transform="translate(351.7,350.8) scale(0.95,1)" class="ax" text-anchor="end">40</text>
<line x1="353.85" y1="378" x2="356.6" y2="378" stroke="#333" stroke-width="1.3"/>
<text transform="translate(351.7,381) scale(0.95,1)" class="ax" text-anchor="end">30</text>
<line x1="353.85" y1="408.2" x2="356.6" y2="408.2" stroke="#333" stroke-width="1.3"/>
<text transform="translate(351.7,411.2) scale(0.95,1)" class="ax" text-anchor="end">20</text>
<line x1="353.85" y1="438.4" x2="356.6" y2="438.4" stroke="#333" stroke-width="1.3"/>
<text transform="translate(351.7,441.4) scale(0.95,1)" class="ax" text-anchor="end">10</text>
<line x1="356.6" y1="459" x2="505.8" y2="459" stroke="#000" stroke-width="1.3"/>
<line x1="397.2" y1="459" x2="397.2" y2="461.75" stroke="#333" stroke-width="1.3"/>
<text transform="translate(397.2,470.1) scale(0.87,1)" class="xl" text-anchor="middle">no EP</text>
<line x1="465.15" y1="459" x2="465.15" y2="461.75" stroke="#333" stroke-width="1.3"/>
<text transform="translate(465.15,470.1) scale(0.87,1)" class="xl" text-anchor="middle">EP</text>
<line x1="397.2" y1="411.1" x2="397.2" y2="414.1" stroke="#F8766D" stroke-width="1.4"/>
<line x1="397.2" y1="453.3" x2="397.2" y2="453.3" stroke="#F8766D" stroke-width="1.4"/>
<rect x="373.4" y="414.1" width="47.6" height="39.2" fill="#fff" stroke="#F8766D" stroke-width="1.4"/>
<line x1="373.4" y1="423" x2="421" y2="423" stroke="#F8766D" stroke-width="2.6"/>
<line x1="465.15" y1="384" x2="465.15" y2="394.5" stroke="#00BFC4" stroke-width="1.4"/>
<line x1="465.15" y1="424.8" x2="465.15" y2="438.4" stroke="#00BFC4" stroke-width="1.4"/>
<rect x="441.35" y="394.5" width="47.6" height="30.3" fill="#fff" stroke="#00BFC4" stroke-width="1.4"/>
<line x1="441.35" y1="411.1" x2="488.95" y2="411.1" stroke="#00BFC4" stroke-width="2.6"/>
<circle cx="387.9" cy="414.1" r="2.2" fill="#F8766D"/>
<circle cx="395.8" cy="411.1" r="2.2" fill="#F8766D"/>
<circle cx="398.8" cy="423" r="2.2" fill="#F8766D"/>
<circle cx="384.1" cy="453.3" r="2.2" fill="#F8766D"/>
<circle cx="395" cy="453.3" r="2.2" fill="#F8766D"/>
<circle cx="398.8" cy="453.3" r="2.2" fill="#F8766D"/>
<circle cx="467" cy="344.8" r="2.2" fill="#00BFC4"/>
<circle cx="465" cy="384" r="2.2" fill="#00BFC4"/>
<circle cx="462" cy="404.9" r="2.2" fill="#00BFC4"/>
<circle cx="466.5" cy="411.1" r="2.2" fill="#00BFC4"/>
<circle cx="475.9" cy="423" r="2.2" fill="#00BFC4"/>
<circle cx="459.1" cy="426.8" r="2.2" fill="#00BFC4"/>
<circle cx="458.3" cy="438.4" r="2.2" fill="#00BFC4"/>
<text transform="translate(415.6,348.2) scale(0.98,1)" class="pv">p = 0.120</text>
<rect x="529.2" y="322.1" width="149.8" height="17.3" fill="#000"/>
<rect x="531.1" y="323.5" width="146" height="13.95" fill="#fff"/>
<text transform="translate(604.1,333.55) scale(0.84,1)" class="st">TRISS</text>
<line x1="529.7" y1="339.4" x2="529.7" y2="459.65" stroke="#000" stroke-width="1.3"/>
<line x1="526.95" y1="342.3" x2="529.7" y2="342.3" stroke="#333" stroke-width="1.3"/>
<text transform="translate(524.8,345.3) scale(0.95,1)" class="ax" text-anchor="end">100</text>
<line x1="526.95" y1="371" x2="529.7" y2="371" stroke="#333" stroke-width="1.3"/>
<text transform="translate(524.8,374) scale(0.95,1)" class="ax" text-anchor="end">75</text>
<line x1="526.95" y1="399.7" x2="529.7" y2="399.7" stroke="#333" stroke-width="1.3"/>
<text transform="translate(524.8,402.7) scale(0.95,1)" class="ax" text-anchor="end">50</text>
<line x1="526.95" y1="428.4" x2="529.7" y2="428.4" stroke="#333" stroke-width="1.3"/>
<text transform="translate(524.8,431.4) scale(0.95,1)" class="ax" text-anchor="end">25</text>
<line x1="526.95" y1="457" x2="529.7" y2="457" stroke="#333" stroke-width="1.3"/>
<text transform="translate(524.8,460) scale(0.95,1)" class="ax" text-anchor="end">0</text>
<line x1="529.7" y1="459" x2="678.9" y2="459" stroke="#000" stroke-width="1.3"/>
<line x1="570.3" y1="459" x2="570.3" y2="461.75" stroke="#333" stroke-width="1.3"/>
<text transform="translate(570.3,470.1) scale(0.87,1)" class="xl" text-anchor="middle">no EP</text>
<line x1="638.25" y1="459" x2="638.25" y2="461.75" stroke="#333" stroke-width="1.3"/>
<text transform="translate(638.25,470.1) scale(0.87,1)" class="xl" text-anchor="middle">EP</text>
<line x1="570.3" y1="344.8" x2="570.3" y2="350.9" stroke="#F8766D" stroke-width="1.4"/>
<line x1="570.3" y1="429" x2="570.3" y2="445.9" stroke="#F8766D" stroke-width="1.4"/>
<rect x="546.5" y="350.9" width="47.6" height="78.1" fill="#fff" stroke="#F8766D" stroke-width="1.4"/>
<line x1="546.5" y1="353.4" x2="594.1" y2="353.4" stroke="#F8766D" stroke-width="2.6"/>
<line x1="638.25" y1="346" x2="638.25" y2="368.4" stroke="#00BFC4" stroke-width="1.4"/>
<line x1="638.25" y1="438.4" x2="638.25" y2="453.8" stroke="#00BFC4" stroke-width="1.4"/>
<rect x="614.45" y="368.4" width="47.6" height="70" fill="#fff" stroke="#00BFC4" stroke-width="1.4"/>
<line x1="614.45" y1="425.3" x2="662.05" y2="425.3" stroke="#00BFC4" stroke-width="2.6"/>
<circle cx="569.1" cy="344.8" r="2.2" fill="#F8766D"/>
<circle cx="570.8" cy="344.8" r="2.2" fill="#F8766D"/>
<circle cx="560.6" cy="353.9" r="2.2" fill="#F8766D"/>
<circle cx="578.5" cy="353.9" r="2.2" fill="#F8766D"/>
<circle cx="583.7" cy="426.5" r="2.2" fill="#F8766D"/>
<circle cx="562.1" cy="435.9" r="2.2" fill="#F8766D"/>
<circle cx="577" cy="445.4" r="2.2" fill="#F8766D"/>
<circle cx="646" cy="346" r="2.2" fill="#00BFC4"/>
<circle cx="638.3" cy="357.7" r="2.2" fill="#00BFC4"/>
<circle cx="650.2" cy="378.8" r="2.2" fill="#00BFC4"/>
<circle cx="634.1" cy="425.3" r="2.2" fill="#00BFC4"/>
<circle cx="640.3" cy="431.7" r="2.2" fill="#00BFC4"/>
<circle cx="649.7" cy="445.4" r="2.2" fill="#00BFC4"/>
<circle cx="649" cy="453.8" r="2.2" fill="#00BFC4"/>
<text transform="translate(588.7,348.2) scale(0.98,1)" class="pv">p = 0.250</text>
<line x1="312.7" y1="7.64" x2="312.7" y2="21.46" stroke="#F8766D" stroke-width="1.4"/>
<rect x="306.6" y="10.23" width="12.2" height="8.64" fill="#fff" stroke="#F8766D" stroke-width="1.6"/>
<line x1="306.6" y1="14.55" x2="318.8" y2="14.55" stroke="#F8766D" stroke-width="2.6"/>
<circle cx="312.7" cy="14.55" r="2.0" fill="#F8766D"/>
<text transform="translate(326.5,17.5) scale(0.826,1)" class="lg">no EP</text>
<line x1="363.2" y1="7.64" x2="363.2" y2="21.46" stroke="#00BFC4" stroke-width="1.4"/>
<rect x="357.1" y="10.23" width="12.2" height="8.64" fill="#fff" stroke="#00BFC4" stroke-width="1.6"/>
<line x1="357.1" y1="14.55" x2="369.3" y2="14.55" stroke="#00BFC4" stroke-width="2.6"/>
<circle cx="363.2" cy="14.55" r="2.0" fill="#00BFC4"/>
<text transform="translate(376.7,17.5) scale(0.826,1)" class="lg">EP</text>
</svg>
</body></html>
